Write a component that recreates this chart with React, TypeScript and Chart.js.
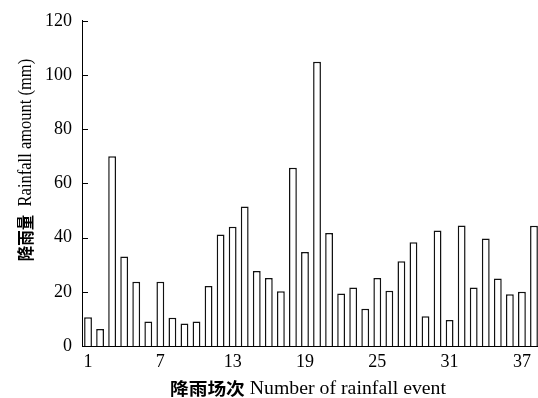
import React, { useEffect, useRef } from "react";
import { Chart, registerables } from "chart.js";

Chart.register(...registerables);

const categories: string[] = Array.from({ length: 38 }, (_, i) => String(i + 1));
const rainfall: number[] = [
  10.6, 6.3, 70, 33, 23.7, 9, 23.7, 10.4, 8.3, 9,
  22.1, 41.1, 44, 51.5, 27.7, 25.1, 20.2, 65.8, 34.7, 104.9,
  41.7, 19.4, 21.6, 13.7, 25.1, 20.4, 31.3, 38.3, 11, 42.6,
  9.6, 44.5, 21.6, 39.7, 24.9, 19.1, 20, 44.4,
];
const yTicks: number[] = [0, 20, 40, 60, 80, 100, 120];
const yTitleCn = "降雨量";
const yTitleEn = "Rainfall amount (mm)";
const xTitleCn = "降雨场次";
const xTitleEn = "Number of rainfall event";

const SERIF = "'Liberation Serif', 'Times New Roman', serif";
const CJK = "'Noto Sans CJK SC', sans-serif";

function drawMixed(ctx: any, cn: string, en: string, gap: string, size: number) {
  const cnFont = `bold ${size - 1}px ${CJK}`;
  const enFont = `${size}px ${SERIF}`;
  ctx.font = cnFont;
  const wCn = ctx.measureText(cn).width;
  ctx.font = enFont;
  const wGap = ctx.measureText(gap).width;
  const wEn = ctx.measureText(en).width;
  const total = wCn + wGap + wEn;
  let x = -total / 2;
  ctx.textBaseline = "middle";
  ctx.textAlign = "left";
  ctx.font = cnFont;
  ctx.fillText(cn, x, 0);
  x += wCn + wGap;
  ctx.font = enFont;
  ctx.fillText(en, x, 0);
}

const decorations = {
  id: "decorations",
  afterDraw(chart: any) {
    const y = chart.scales.y;
    const x = chart.scales.x;
    const ctx = chart.ctx;
    ctx.save();
    ctx.strokeStyle = "#000";
    ctx.lineWidth = 1;
    ctx.beginPath();
    for (const v of yTicks) {
      const py = Math.round(y.getPixelForValue(v)) + 0.5;
      ctx.moveTo(y.right, py);
      ctx.lineTo(y.right + 6, py);
    }
    ctx.stroke();
    ctx.restore();

    ctx.save();
    ctx.fillStyle = "#000";
    // x-axis title
    const xc = (x.left + x.right) / 2 - 3;
    ctx.translate(xc, 389);
    ctx.scale(1.1, 1);
    drawMixed(ctx, xTitleCn, xTitleEn, " ", 18);
    ctx.restore();

    ctx.save();
    ctx.fillStyle = "#000";
    // y-axis title
    ctx.translate(26, 160);
    ctx.scale(1.1, 1);
    ctx.rotate(-Math.PI / 2);
    drawMixed(ctx, yTitleCn, yTitleEn, "  ", 16.5);
    ctx.restore();
  },
};

export default function App() {
  const ref = useRef<HTMLCanvasElement | null>(null);
  useEffect(() => {
    document.body.style.overflow = "hidden";
    const chart = new Chart(ref.current as HTMLCanvasElement, {
      type: "bar",
      data: {
        labels: categories,
        datasets: [
          {
            data: rainfall,
            backgroundColor: "#ffffff",
            borderColor: "#111111",
            borderWidth: 1.5,
            barPercentage: 0.65,
            categoryPercentage: 1,
          },
        ],
      },
      options: {
        animation: false,
        responsive: false,
        devicePixelRatio: 1,
        layout: { padding: { top: 20, right: 8, bottom: 0, left: 0 } },
        plugins: { legend: { display: false }, tooltip: { enabled: false } },
        scales: {
          x: {
            grid: { display: false, drawTicks: false },
            border: { display: true, color: "#000", width: 1 },
            ticks: {
              autoSkip: false,
              maxRotation: 0,
              padding: 5,
              color: "#000",
              font: { family: SERIF, size: 18 },
              callback: (_v: any, i: number) => (i % 6 === 0 ? categories[i] : ""),
            },
            afterFit: (s: any) => {
              s.height = 52;
            },
          },
          y: {
            min: 0,
            max: 120,
            grid: { display: false, drawTicks: false },
            border: { display: true, color: "#000", width: 1 },
            afterBuildTicks: (s: any) => {
              s.ticks = yTicks.map((v) => ({ value: v }));
            },
            ticks: {
              padding: 10,
              color: "#000",
              font: { family: SERIF, size: 18 },
            },
            afterFit: (s: any) => {
              s.width = 82;
            },
          },
        },
      },
      plugins: [decorations],
    });
    return () => chart.destroy();
  }, []);
  return (
    <div
      style={{
        position: "fixed",
        left: 0,
        top: 0,
        width: 538,
        height: 398,
        overflow: "hidden",
        background: "#fff",
      }}
    >
      <canvas ref={ref} width={548} height={398} style={{ display: "block" }} />
    </div>
  );
}
